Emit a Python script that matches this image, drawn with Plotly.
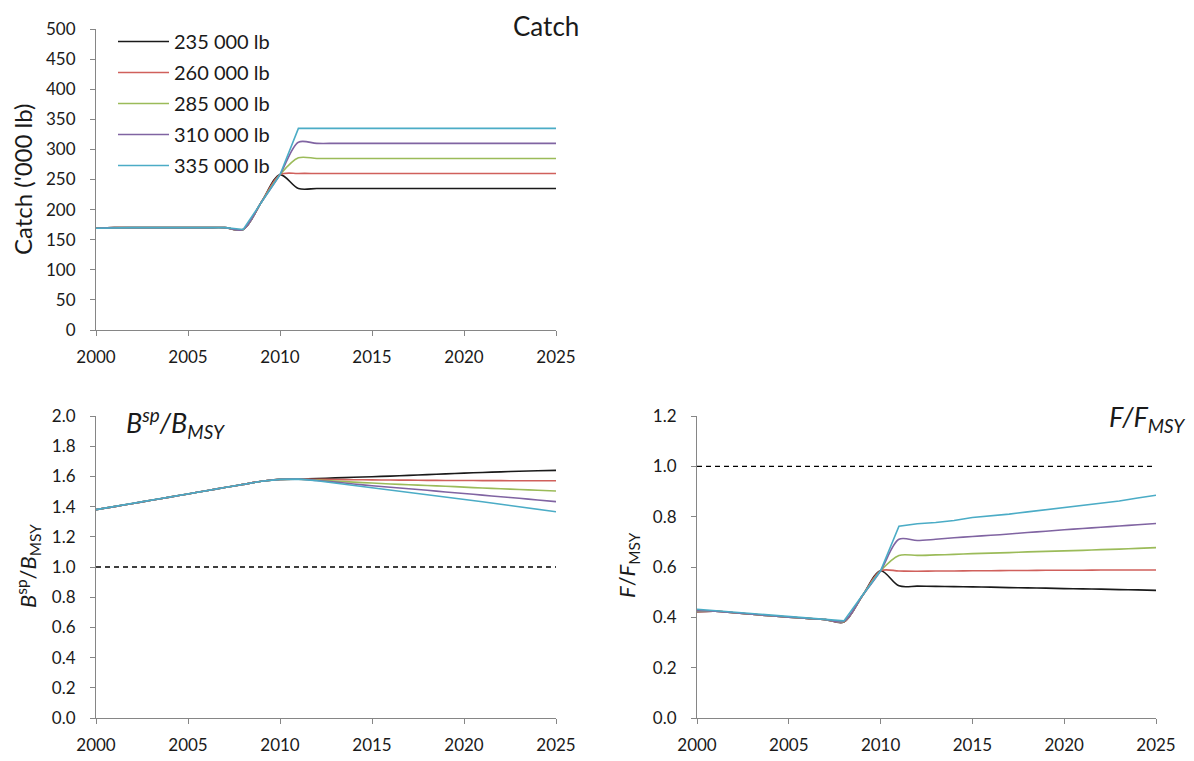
import plotly.graph_objects as go

W, H = 1194, 761
OFF = 8  # page margin around the plot div

years = list(range(2000, 2026))
series_names = ["235 000 lb", "260 000 lb", "285 000 lb", "310 000 lb", "335 000 lb"]
colors = ["#1a1a1a", "#d0605c", "#9bbb59", "#8064a2", "#4bacc6"]

# Catch ('000 lb), 2000-2025
catch_235 = [169, 170, 170, 170, 170, 170, 170, 170, 167, 213, 258, 235, 235, 235, 235, 235, 235, 235, 235, 235, 235, 235, 235, 235, 235, 235]
catch_260 = [169, 170, 170, 170, 170, 170, 170, 170, 167, 213, 258, 260, 260, 260, 260, 260, 260, 260, 260, 260, 260, 260, 260, 260, 260, 260]
catch_285 = [169, 170, 170, 170, 170, 170, 170, 170, 167, 213, 258, 286, 285, 285, 285, 285, 285, 285, 285, 285, 285, 285, 285, 285, 285, 285]
catch_310 = [169, 170, 170, 170, 170, 170, 170, 170, 167, 213, 258, 312, 310, 310, 310, 310, 310, 310, 310, 310, 310, 310, 310, 310, 310, 310]
catch_335 = [169, 170, 170, 170, 170, 170, 170, 170, 167, 213, 258, 335, 335, 335, 335, 335, 335, 335, 335, 335, 335, 335, 335, 335, 335, 335]

# Bsp/BMSY, 2000-2025
b_235 = [1.380, 1.400, 1.421, 1.442, 1.463, 1.484, 1.505, 1.526, 1.547, 1.568, 1.580, 1.582,
         1.586, 1.590, 1.594, 1.598, 1.602, 1.607, 1.612, 1.617, 1.622, 1.626, 1.630, 1.634, 1.637, 1.640]
b_260 = [1.380, 1.400, 1.421, 1.442, 1.463, 1.484, 1.505, 1.526, 1.547, 1.568, 1.580, 1.582,
         1.581, 1.579, 1.578, 1.577, 1.576, 1.575, 1.574, 1.573, 1.573, 1.572, 1.572, 1.571, 1.571, 1.571]
b_285 = [1.380, 1.400, 1.421, 1.442, 1.463, 1.484, 1.505, 1.526, 1.547, 1.568, 1.580, 1.582,
         1.576, 1.569, 1.562, 1.556, 1.550, 1.545, 1.540, 1.535, 1.529, 1.523, 1.518, 1.513, 1.508, 1.503]
b_310 = [1.380, 1.400, 1.421, 1.442, 1.463, 1.484, 1.505, 1.526, 1.547, 1.568, 1.580, 1.582,
         1.573, 1.562, 1.550, 1.538, 1.528, 1.518, 1.508, 1.497, 1.487, 1.476, 1.465, 1.455, 1.444, 1.433]
b_335 = [1.380, 1.400, 1.421, 1.442, 1.463, 1.484, 1.505, 1.526, 1.547, 1.568, 1.580, 1.582,
         1.571, 1.556, 1.540, 1.523, 1.507, 1.492, 1.478, 1.463, 1.448, 1.432, 1.415, 1.399, 1.383, 1.366]

# F/FMSY, 2000-2025
f_235 = [0.422, 0.424, 0.418, 0.412, 0.406, 0.401, 0.396, 0.391, 0.381, 0.485, 0.585,
         0.525, 0.524, 0.523, 0.522, 0.521, 0.520, 0.518, 0.517, 0.516, 0.514, 0.513, 0.512, 0.510, 0.509, 0.507]
f_260 = [0.422, 0.424, 0.418, 0.412, 0.406, 0.401, 0.396, 0.391, 0.382, 0.485, 0.585,
         0.584, 0.583, 0.584, 0.584, 0.585, 0.585, 0.586, 0.586, 0.587, 0.587, 0.587, 0.588, 0.588, 0.588, 0.588]
f_285 = [0.424, 0.424, 0.418, 0.412, 0.406, 0.401, 0.396, 0.391, 0.383, 0.485, 0.585,
         0.646, 0.646, 0.648, 0.650, 0.653, 0.655, 0.657, 0.660, 0.662, 0.664, 0.666, 0.669, 0.671, 0.674, 0.677]
f_310 = [0.426, 0.424, 0.418, 0.412, 0.406, 0.401, 0.396, 0.391, 0.384, 0.485, 0.585,
         0.710, 0.705, 0.710, 0.716, 0.721, 0.726, 0.731, 0.737, 0.742, 0.748, 0.753, 0.758, 0.763, 0.768, 0.773]
f_335 = [0.432, 0.426, 0.419, 0.413, 0.407, 0.402, 0.397, 0.392, 0.386, 0.487, 0.585,
         0.762, 0.772, 0.777, 0.785, 0.797, 0.803, 0.810, 0.819, 0.827, 0.836, 0.845, 0.853, 0.862, 0.874, 0.885]

catch_series = [catch_235, catch_260, catch_285, catch_310, catch_335]
b_series = [b_235, b_260, b_285, b_310, b_335]
f_series = [f_235, f_260, f_285, f_310, f_335]
REF_LEVEL = 1.0

FONT = "Lato"
TXT = "#1a1a1a"
AX = "#868686"

def fx(p):
    return (p - OFF) / W

def fy(p):
    return 1 - (p - OFF) / H

def px_x(a, b):
    return [fx(a), fx(b)]

def px_y(top, bottom):
    return [fy(bottom), fy(top)]

fig = go.Figure()

panels = [("x", "y", catch_series, True),
          ("x2", "y2", b_series, False),
          ("x3", "y3", f_series, False)]

for xa, ya, data, show in panels:
    for i, (name, vals) in enumerate(zip(series_names, data)):
        fig.add_trace(go.Scatter(
            x=years, y=vals, xaxis=xa, yaxis=ya, mode="lines", name=name,
            legendgroup=name, showlegend=show,
            line=dict(color=colors[i], width=1.6,
                      shape="linear" if i == 4 else "spline", smoothing=0.9),
            hoverinfo="skip"))

common_x = dict(range=[2000, 2025], tickvals=[2000, 2005, 2010, 2015, 2020, 2025],
                showgrid=False, zeroline=False, showline=True, linecolor=AX, linewidth=1,
                ticks="outside", ticklen=5, tickcolor=AX, automargin=False,
                tickfont=dict(family=FONT, size=17, color=TXT), ticklabelstandoff=7)
common_y = dict(showgrid=False, zeroline=False, showline=True, linecolor=AX, linewidth=1,
                ticks="outside", ticklen=5, tickcolor=AX, automargin=False,
                tickfont=dict(family=FONT, size=17, color=TXT), ticklabelstandoff=11)

fig.update_layout(
    width=W, height=H, margin=dict(l=0, r=0, t=0, b=0, autoexpand=False),
    paper_bgcolor="white", plot_bgcolor="white",
    font=dict(family=FONT, color=TXT),
    xaxis=dict(domain=px_x(96, 556), anchor="y", **common_x),
    yaxis=dict(domain=px_y(29, 330), anchor="x", range=[0, 500], dtick=50, **common_y),
    xaxis2=dict(domain=px_x(96, 556), anchor="y2", **common_x),
    yaxis2=dict(domain=px_y(416, 718), anchor="x2", range=[0, 2.0], dtick=0.2,
                tickformat=".1f", **common_y),
    xaxis3=dict(domain=px_x(697, 1156), anchor="y3", **common_x),
    yaxis3=dict(domain=px_y(416, 718), anchor="x3", range=[0, 1.2], dtick=0.2,
                tickformat=".1f", **common_y),
    showlegend=True,
    legend=dict(x=fx(113), y=fy(22), xanchor="left", yanchor="top",
                bgcolor="rgba(0,0,0,0)", font=dict(family=FONT, size=20, color=TXT),
                tracegroupgap=2, itemwidth=51),
)

for xa, ya in [("x2", "y2"), ("x3", "y3")]:
    fig.add_shape(type="line", xref=f"{xa} domain", yref=ya, x0=0, x1=1,
                  y0=REF_LEVEL, y1=REF_LEVEL, line=dict(color="black", width=1.3, dash="5px,4px"))

ann = [
    dict(text="Catch", x=fx(581), y=fy(8), xanchor="right", yanchor="top", size=26),
    dict(text="<i>B</i><sup><i>sp</i></sup><i>/B</i><sub><i>MSY</i></sub>", x=fx(124), y=fy(423),
         xanchor="left", yanchor="middle", size=27),
    dict(text="<i>F</i><i>/F</i><sub><i>MSY</i></sub>", x=fx(1187), y=fy(418),
         xanchor="right", yanchor="middle", size=27),
]
for a in ann:
    fig.add_annotation(text=a["text"], x=a["x"], y=a["y"], xref="paper", yref="paper",
                       xanchor=a["xanchor"], yanchor=a["yanchor"], showarrow=False,
                       font=dict(family=FONT, size=a["size"], color=TXT))

ytitles = [
    ("Catch ('000 lb)", 22, 180, 24),
    ("<i>B</i><sup>sp</sup>/<i>B</i><sub>MSY</sub>", 28, 566, 22),
    ("<i>F</i>/<i>F</i><sub>MSY</sub>", 628, 565, 22),
]
for t, x, y, s in ytitles:
    fig.add_annotation(text=t, x=fx(x), y=fy(y), xref="paper", yref="paper",
                       xanchor="center", yanchor="middle", textangle=-90, showarrow=False,
                       font=dict(family=FONT, size=s, color=TXT))

fig.write_html("out.html")
